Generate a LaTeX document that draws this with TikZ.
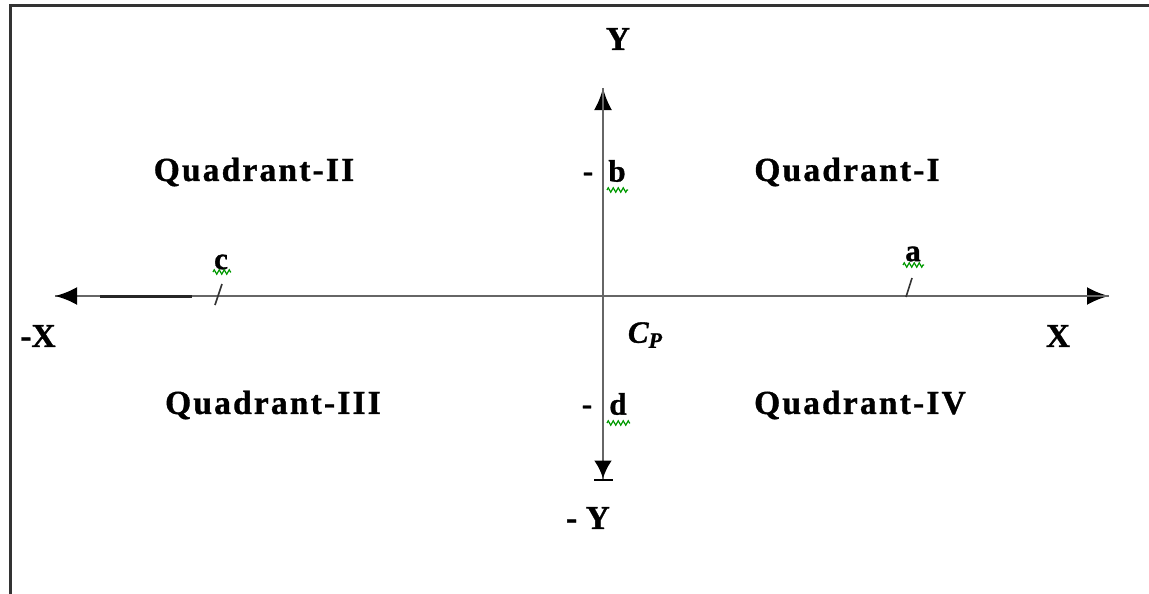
\documentclass[tikz,border=0pt]{standalone}
\usepackage{fontspec}
\setmainfont{Liberation Serif}
\usetikzlibrary{arrows.meta,decorations.pathmorphing}
\tikzset{
  lbl/.style={font=\fontsize{33.5}{40}\selectfont\bfseries\addfontfeatures{LetterSpace=6.5,FakeBold=1}, inner sep=0pt, text=black},
  axlbl/.style={font=\fontsize{33.5}{40}\selectfont\bfseries\addfontfeatures{FakeBold=1}, inner sep=0pt, text=black},
  small/.style={font=\fontsize{31}{36}\selectfont\bfseries\addfontfeatures{FakeBold=1}, inner sep=0pt},
  axis/.style={draw=black!60, line width=2.8pt},
  head/.style={-{Latex[length=22pt,width=18pt,color=black]}},
  tick/.style={draw=black!80, line width=1.6pt},
  squig/.style={draw=green!60!black, line width=1.2pt, decorate, decoration={zigzag, segment length=5pt, amplitude=2.2pt}},
  frame/.style={draw=black!80, line width=3pt}
}
\begin{document}
\begin{tikzpicture}[x=1pt,y=-1pt]
\useasboundingbox (0,0) rectangle (1149,594);
% frame (left and top edges only visible)
\coordinate (fb) at (10,596);
\coordinate (fc) at (10,6);
\coordinate (fr) at (1151,6);
\draw[frame] (fb) -- (fc) -- (fr);
% axes
\coordinate (xl) at (55,296);
\coordinate (xr) at (1109,296);
\coordinate (yt) at (603,88);
\coordinate (yb) at (603,481);
\coordinate (dk1) at (100,296);
\coordinate (dk2) at (192,296);
\draw[axis, head] (xl) -- (xr);
\draw[axis, head] (xr) -- (xl);
\draw[draw=black!85, line width=3pt] (dk1) -- (dk2);
\draw[axis, head] (yb) -- (yt);
\draw[axis, -{Latex[length=18pt,width=18pt,color=black]Bar[width=19pt,line width=2.5pt,color=black]}] (yt) -- (yb);
% axis labels
\node[axlbl] (Y) at (618,39) {Y};
\node[axlbl] (mY) at (588,518) {- Y};
\node[axlbl] (mX) at (38,336) {-X};
\node[axlbl] (X) at (1058,336) {X};
% quadrants
\node[lbl] (q2) at (254,172) {Quadrant-II};
\node[lbl] (q1) at (847,172) {Quadrant-I};
\node[lbl] (q3) at (273,405) {Quadrant-III};
\node[lbl] (q4) at (860,405) {Quadrant-IV};
% b and d
\node[small] (bd) at (588,177) {-};
\node[small] (b) at (617,171) {b};
\node[small] (dd) at (587,410) {-};
\node[small] (d) at (618,404) {d};
\coordinate (bs1) at (607,190); \coordinate (bs2) at (628,190);
\coordinate (ds1) at (607,423); \coordinate (ds2) at (630,423);
\draw[squig] (bs1) -- (bs2);
\draw[squig] (ds1) -- (ds2);
% c and a with ticks
\node[small] (c) at (221,262) {c};
\coordinate (cs1) at (213,272); \coordinate (cs2) at (231,272);
\draw[squig] (cs1) -- (cs2);
\coordinate (ct1) at (215,305); \coordinate (ct2) at (222,284);
\draw[tick] (ct1) -- (ct2);
\node[small] (a) at (913,254) {a};
\coordinate (as1) at (903,265); \coordinate (as2) at (924,265);
\draw[squig] (as1) -- (as2);
\coordinate (at1) at (906,297); \coordinate (at2) at (912,278);
\draw[tick] (at1) -- (at2);
% Cp
\node[font=\fontsize{31}{36}\selectfont\bfseries\itshape\addfontfeatures{FakeBold=1}, inner sep=0pt] (cp) at (645,335) {C\raisebox{-5pt}{\fontsize{22}{24}\selectfont P}};
\end{tikzpicture}
\end{document}
